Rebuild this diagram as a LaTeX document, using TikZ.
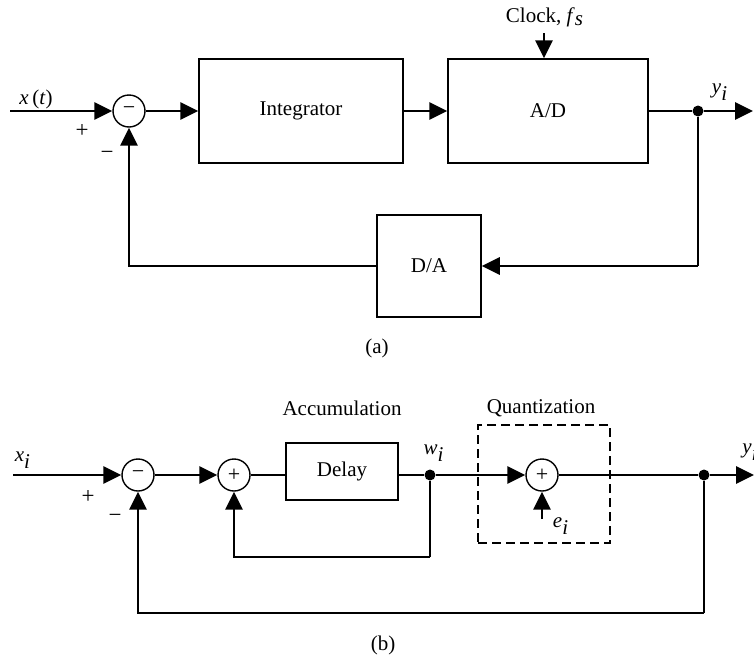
\documentclass[tikz,border=0pt]{standalone}
\usepackage{fontspec}
\setmainfont{Liberation Serif}
\usetikzlibrary{arrows.meta}

\newcommand{\vsub}[2]{\textit{#1}$_{\textit{#2}}$}

\tikzset{
  px/.style={x=0.5pt,y=-0.5pt},
  txt/.style={font=\fontsize{10.5}{12}\selectfont, inner sep=0pt},
  sgn/.style={font=\fontsize{11.5}{12}\selectfont, inner sep=0pt},
  blk/.style={draw, line width=0.75pt, inner sep=0pt, txt},
  sumc/.style={circle, draw, line width=0.7pt, minimum size=16pt, inner sep=0pt,
               font=\fontsize{11}{12}\selectfont},
  sig/.style={line width=1.4pt},
  arr/.style={sig, -{Triangle[length=9pt,width=8.5pt]}},
  jdot/.style={circle, fill, inner sep=0pt, minimum size=5.5pt},
  qbox/.style={draw, dash pattern=on 4.5pt off 2.5pt, line width=0.75pt, inner sep=0pt},
}

\begin{document}
\begin{tikzpicture}[px]
\useasboundingbox (0,0) rectangle (754,659);

% ---------------- (a) ----------------
\coordinate (xin) at (10,111);
\node[sumc] (s1) at (129,111) {−};
\node[blk, minimum width=102pt, minimum height=52pt] (integ) at (301,111) {Integrator};
\node[blk, minimum width=100pt, minimum height=52pt] (ad) at (548,111) {A/D};
\node[blk, minimum width=52pt, minimum height=51pt] (da) at (429,266) {D/A};
\node[jdot] (ya) at (698,111) {};
\coordinate (yaout) at (753,111);
\coordinate (clk) at (544,33);
\coordinate (fa) at (698,266);

\node[txt] at (36,99) {\textit{x}\,(\textit{t})};
\node[sgn] at (82,131) {+};
\node[sgn] at (107,155) {−};
\node[txt] at (545,17) {Clock, \vsub{f}{s}};
\node[txt] at (720,92) {\vsub{y}{i}};
\node[txt] at (377,348) {(a)};

\draw[arr] (xin) -- (s1);
\draw[arr] (s1) -- (integ);
\draw[arr] (integ) -- (ad);
\draw[arr] (clk) -- (clk |- ad.north);
\draw[sig] (ad) -- (ya);
\draw[arr] (ya) -- (yaout);
\draw[sig] (ya) -- (fa);
\draw[arr] (fa) -- (da);
\draw[arr] (da.west) -| (s1);

% ---------------- (b) ----------------
\coordinate (xinb) at (13,475);
\node[sumc] (s2) at (138,475) {−};
\node[sumc] (s3) at (234,475) {+};
\node[blk, minimum width=56pt, minimum height=28.5pt] (delay) at (342,471.5) {Delay};
\node[jdot] (w) at (430,475) {};
\node[qbox, minimum width=66pt, minimum height=59pt] (quant) at (544,484) {};
\node[sumc] (s4) at (542,475) {+};
\coordinate (ein) at (542,519);
\node[jdot] (yb) at (704,475) {};
\coordinate (ybout) at (754,475);
\coordinate (fin) at (430,557);
\coordinate (fout) at (704,613);

\node[txt] at (23,460) {\vsub{x}{i}};
\node[sgn] at (88,497) {+};
\node[sgn] at (115,518) {−};
\node[txt] at (342,408) {Accumulation};
\node[txt] at (541,408) {Quantization};
\node[txt] at (434,453) {\vsub{w}{i}};
\node[txt] at (561,526) {\vsub{e}{i}};
\node[txt, anchor=west] at (742,452) {\vsub{y}{i}};
\node[txt] at (383,645) {(b)};

\draw[arr] (xinb) -- (s2);
\draw[arr] (s2) -- (s3);
\draw[sig] (s3.east) -- (s3.east -| delay.west);
\draw[sig] (delay.east |- w) -- (w);
\draw[arr] (w) -- (s4);
\draw[arr] (ein) -- (s4);
\draw[sig] (s4) -- (yb);
\draw[arr] (yb) -- (ybout);
\draw[sig] (w) -- (fin);
\draw[arr] (fin) -| (s3);
\draw[sig] (yb) -- (fout);
\draw[arr] (fout) -| (s2);
\end{tikzpicture}
\end{document}
